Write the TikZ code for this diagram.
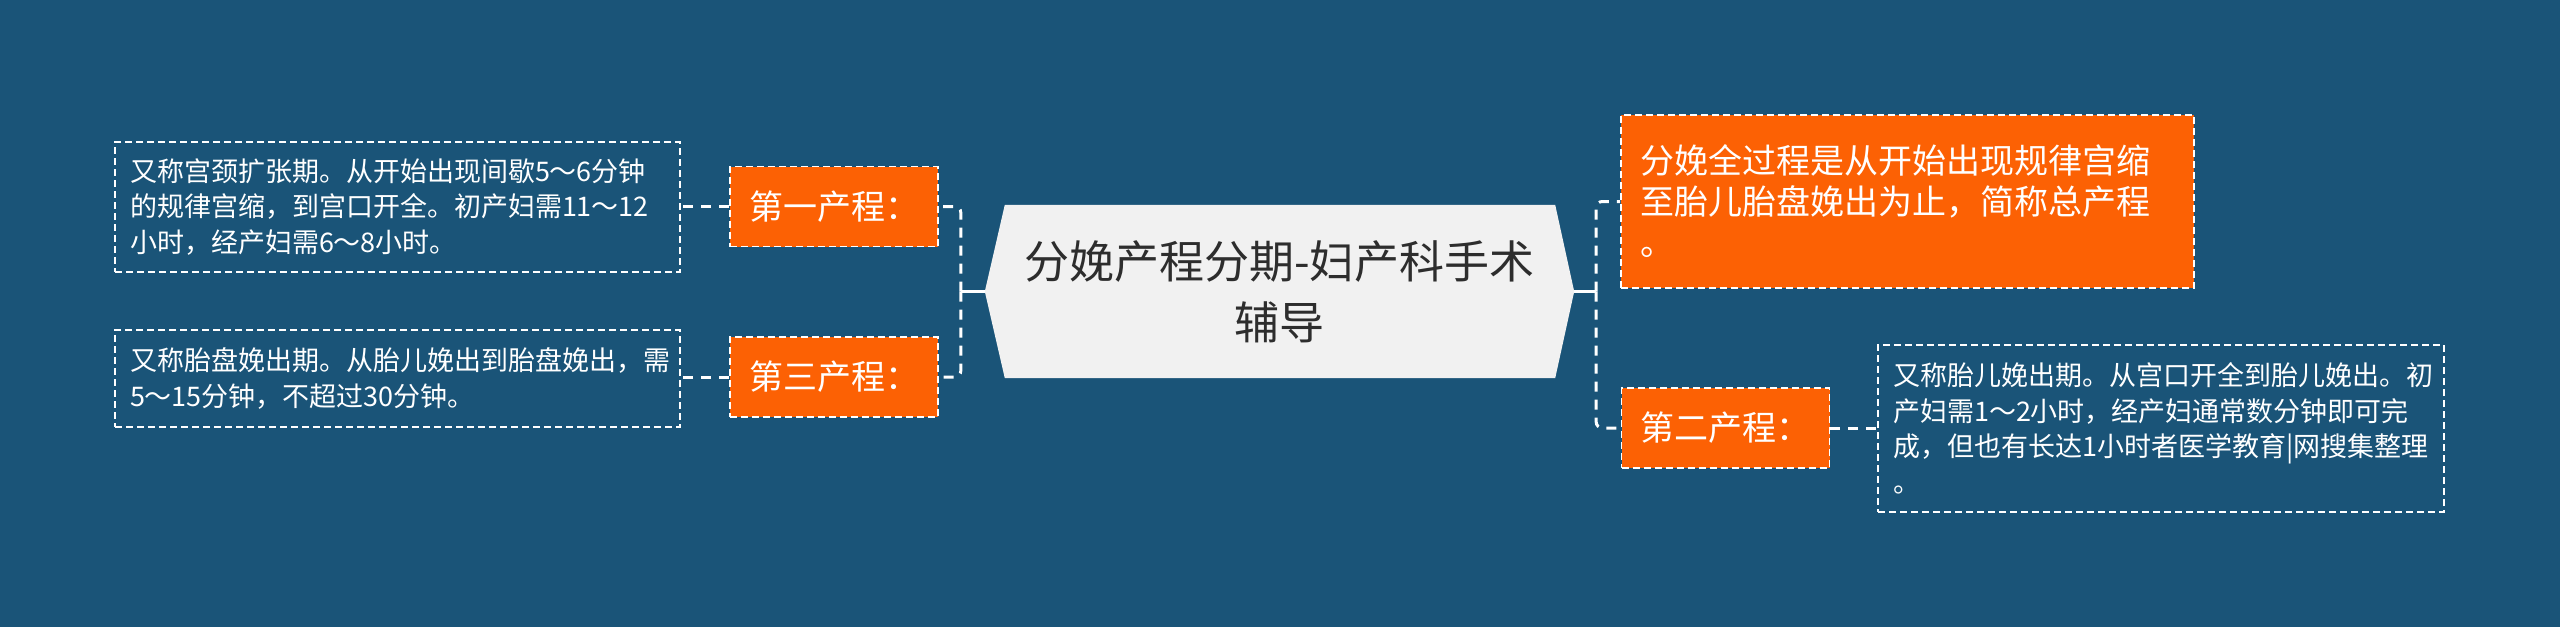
\documentclass[tikz,border=0pt]{standalone}
\usepackage{fontspec}
\setmainfont{Noto Sans CJK SC}
\usetikzlibrary{backgrounds}
\definecolor{bg}{RGB}{26,84,120}
\definecolor{org}{RGB}{252,97,4}
\definecolor{hexf}{RGB}{241,241,241}
\definecolor{tdark}{RGB}{45,45,45}
\begin{document}
\begin{tikzpicture}[x=1pt,y=-1pt,
  boxdash/.style={draw=white, line width=1.8pt, dash pattern=on 7pt off 4pt},
  conn/.style={draw=white, line width=3pt, dash pattern=on 10pt off 8pt, rounded corners=6pt},
  stub/.style={draw=white, line width=3pt},
  hexnode/.style={minimum width=589pt, minimum height=173pt, inner sep=0pt, align=center, text=tdark, font=\fontsize{45}{61}\selectfont},
  tag/.style={fill=org, boxdash, minimum width=208pt, minimum height=80pt, inner sep=0pt, text=white, font=\fontsize{34}{41}\selectfont},
  bigtag/.style={fill=org, boxdash, minimum height=173pt, text width=535pt, inner xsep=19pt, inner ysep=0pt, align=left, text=white, font=\fontsize{34}{41}\selectfont},
  detail/.style={boxdash, text width=535pt, inner xsep=15pt, inner ysep=0pt, align=left, text=white, font=\fontsize{27}{35.5}\selectfont}
]
\begin{scope}[on background layer]
\fill[bg] (0,0) rectangle (2560,627);
\end{scope}
\useasboundingbox (0,0) rectangle (2560,627);

\node[hexnode] (c) at (1279.5,291.5) {分娩产程分期-妇产科手术\\辅导};
\begin{scope}[on background layer]
\fill[hexf] (c.west) -- ([xshift=20pt]c.north west) -- ([xshift=-19pt]c.north east) -- (c.east) -- ([xshift=-19pt]c.south east) -- ([xshift=20pt]c.south west) -- cycle;
\end{scope}

\node[tag] (b1) at (834,206.5) {第一产程：};
\node[tag] (b3) at (834,377) {第三产程：};
\node[tag] (b2) at (1725.5,428) {第二产程：};

\node[bigtag] (r1) at (1907.5,201.5) {分娩全过程是从开始出现规律宫缩\\至胎儿胎盘娩出为止，简称总产程\\。};

\node[detail, minimum height=130pt] (d1) at (397.5,207) {又称宫颈扩张期。从开始出现间歇5～6分钟\\的规律宫缩，到宫口开全。初产妇需11～12\\小时，经产妇需6～8小时。};
\node[detail, minimum height=97pt] (d3) at (397.5,378.5) {又称胎盘娩出期。从胎儿娩出到胎盘娩出，需\\5～15分钟，不超过30分钟。};
\node[detail, text width=536pt, minimum height=167pt] (d2) at (2161,428.5) {又称胎儿娩出期。从宫口开全到胎儿娩出。初\\产妇需1～2小时，经产妇通常数分钟即可完\\成，但也有长达1小时者医学教育|网搜集整理\\。};

\coordinate (jl) at ([xshift=-24pt]c.west);
\coordinate (jr) at ([xshift=22pt]c.east);
\draw[stub] (c.west) -- (jl);
\draw[stub] (c.east) -- (jr);
\draw[conn] (jl) |- (b1.east);
\draw[conn] (jl) |- (b3.east);
\draw[conn] (jr) |- (r1.west);
\draw[conn] (jr) |- (b2.west);
\draw[conn] (b1.west) -- (b1.west -| d1.east);
\draw[conn] (b3.west) -- (b3.west -| d3.east);
\draw[conn] (b2.east) -- (b2.east -| d2.west);
\end{tikzpicture}
\end{document}
